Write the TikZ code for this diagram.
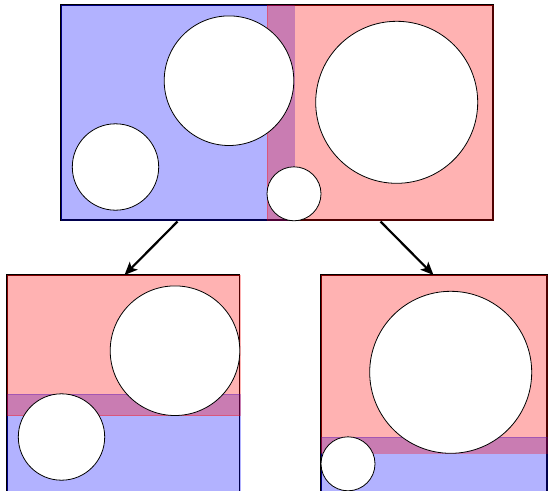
\documentclass[tikz,border=0pt]{standalone}
\usetikzlibrary{arrows.meta}

% the four spheres, in the coordinates of the root box
\newcommand\sphereA{(115.5,167) circle[radius=43.2]}
\newcommand\sphereB{(229,80.7) circle[radius=64.8]}
\newcommand\sphereC{(396.7,102.3) circle[radius=81]}
\newcommand\sphereD{(294,193.8) circle[radius=27]}

\tikzset{
  rootframe/.style={draw=black, line width=2.3pt},
  childframe/.style={draw=black, line width=1.2pt},
  bluevol/.style={fill=blue, draw=blue, line width=0.6pt, opacity=0.3},
  redvol/.style={fill=red, draw=red, line width=0.6pt, opacity=0.3},
  sphere/.style={fill=white, draw=black, line width=0.8pt},
  split/.style={-{Stealth[length=13pt,width=11pt,inset=3pt]}, line width=2.2pt, black}
}

\begin{document}
\begin{tikzpicture}[x=1pt, y=-1pt]
  \useasboundingbox (0,0) rectangle (548,490);
  \clip (0,0) rectangle (548,490);

  % root node: left and right bounding volumes
  \draw[rootframe] (61,5) rectangle (493,220);
  \path[bluevol] (61,5) rectangle (293.8,220);
  \path[redvol] (267,5) rectangle (493,220);
  \foreach \s in {\sphereA,\sphereB,\sphereC,\sphereD}
    \path[sphere] \s;

  % left child: spheres A and B, split horizontally
  \begin{scope}[shift={(-54,270)}]
    \draw[childframe] (61,5) rectangle (293.8,240);
    \path[bluevol] (61,123.8) rectangle (293.8,240);
    \path[redvol] (61,5) rectangle (293.8,145.5);
    \path[sphere] \sphereA;
    \path[sphere] \sphereB;
  \end{scope}

  % right child: spheres C and D, split horizontally
  \begin{scope}[shift={(54,270)}]
    \draw[childframe] (267,5) rectangle (493,240);
    \path[bluevol] (267,166.8) rectangle (493,240);
    \path[redvol] (267,5) rectangle (493,183.3);
    \path[sphere] \sphereC;
    \path[sphere] \sphereD;
  \end{scope}

  % connectors from the root to its children
  \coordinate (rootL) at (177.5,221.5);
  \coordinate (rootR) at (380.5,221.5);
  \coordinate (childL) at (124.5,275);
  \coordinate (childR) at (433.5,275);
  \draw[split] (rootL) -- (childL);
  \draw[split] (rootR) -- (childR);
\end{tikzpicture}
\end{document}
